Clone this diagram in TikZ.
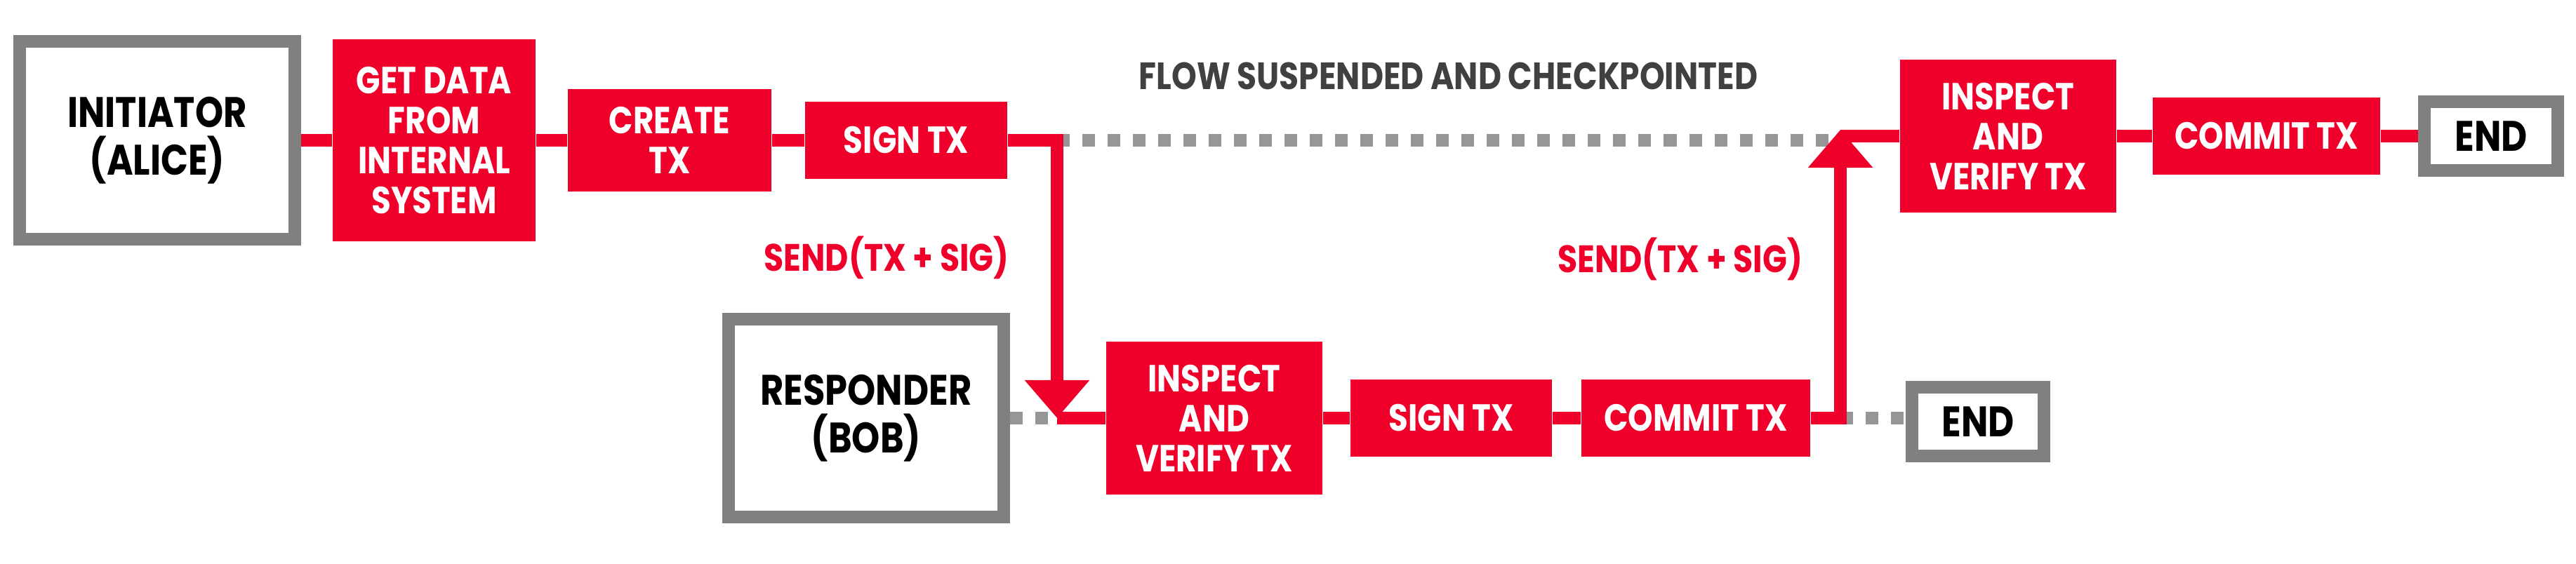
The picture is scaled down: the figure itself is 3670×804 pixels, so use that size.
\documentclass[tikz,border=0pt]{standalone}
\usepackage{fontspec}
\setmainfont{Poppins}[FakeStretch=0.84]
\usetikzlibrary{arrows.meta,positioning,calc,backgrounds}
\definecolor{cordared}{HTML}{EF002B}
\definecolor{frame}{HTML}{808080}
\definecolor{dots}{HTML}{969696}
\definecolor{captxt}{HTML}{404040}

\tikzset{
  actor/.style={draw=frame, line width=0.18cm, fill=white, text=black, align=center, inner sep=0pt,
    font=\bfseries\fontsize{17.3}{19.3}\selectfont},
  stepbox/.style={fill=cordared, text=white, align=center, inner sep=0pt,
    font=\bfseries\fontsize{15.3}{16.2}\selectfont},
  flow/.style={draw=cordared, line width=0.18cm},
  pause/.style={draw=dots, line width=0.18cm, dash pattern=on 0.18cm off 0.18cm},
  tipmark/.style={-{Triangle[length=0.54cm, width=0.89cm]}},
}

\begin{document}
\begin{tikzpicture}[x=0.01cm, y=-0.01cm]
  \useasboundingbox (0,0) rectangle (3670,804);

  % initiator side
  \node[actor, minimum width=3.92cm, minimum height=2.82cm] (initiator) at (224,200) {INITIATOR\\(ALICE)};
  \node[stepbox, minimum width=2.89cm, minimum height=2.88cm] (getdata) at (618.5,200) {GET DATA\\FROM\\INTERNAL\\SYSTEM};
  \node[stepbox, minimum width=2.90cm, minimum height=1.46cm] (create) at (954,200) {CREATE\\TX};
  \node[stepbox, minimum width=2.88cm, minimum height=1.10cm] (signA) at (1291,200) {SIGN TX};

  % responder side
  \node[actor, minimum width=3.92cm, minimum height=2.82cm] (responder) at (1234,596) {RESPONDER\\(BOB)};
  \node[stepbox, minimum width=3.08cm, minimum height=2.18cm] (inspectA) at (1730,596) {INSPECT\\AND\\VERIFY TX};
  \node[stepbox, minimum width=2.87cm, minimum height=1.10cm] (signB) at (2067.5,596) {SIGN TX};
  \node[stepbox, minimum width=3.26cm, minimum height=1.10cm] (commitA) at (2416,596) {COMMIT TX};
  \node[actor, minimum width=1.88cm, minimum height=0.98cm] (endA) at (2818,601) {END};

  % back on initiator
  \node[stepbox, minimum width=3.08cm, minimum height=2.18cm] (inspectB) at (2861,194) {INSPECT\\AND\\VERIFY TX};
  \node[stepbox, minimum width=3.24cm, minimum height=1.10cm] (commitB) at (3229,194) {COMMIT TX};
  \node[actor, minimum width=1.90cm, minimum height=0.98cm] (endB) at (3549,194) {END};

  \coordinate (dropA) at (1506,200);
  \coordinate (landA) at (1506,596);
  \coordinate (riseB) at (2622,596);
  \coordinate (landB) at (2622,194);
  \coordinate (tipB) at (2622,185);

  % labels
  \node[anchor=base, text=captxt, font=\bfseries\fontsize{15.4}{17}\selectfont] (suspended) at (2063.5,128)
    {FLOW SUSPENDED AND CHECKPOINTED};
  \node[anchor=base, text=cordared, font=\bfseries\fontsize{15.5}{17}\selectfont] (sendA) at (1263,387) {SEND(TX + SIG)};
  \node[anchor=base, text=cordared, font=\bfseries\fontsize{15.5}{17}\selectfont] (sendB) at (2393.5,389) {SEND(TX + SIG)};

  \begin{scope}[on background layer]
    \draw[pause] (dropA) -- (dropA -| landB);
    \draw[pause] (responder) -- (landA);
    \draw[pause] (riseB) -- (riseB -| endA.west);
    \draw[flow] (initiator) -- (getdata);
    \draw[flow] (getdata) -- (create);
    \draw[flow] (create) -- (signA);
    \draw[flow, tipmark] (signA) -- (dropA) -- (landA);
    \draw[flow] (landA) -- (inspectA);
    \draw[flow] (inspectA) -- (signB);
    \draw[flow] (signB) -- (commitA);
    \draw[flow, tipmark] (commitA) -- (riseB) -- (tipB);
    \draw[flow] (landB) -- (inspectB);
    \draw[flow] (inspectB) -- (commitB);
    \draw[flow] (commitB) -- (endB);
  \end{scope}
\end{tikzpicture}
\end{document}
